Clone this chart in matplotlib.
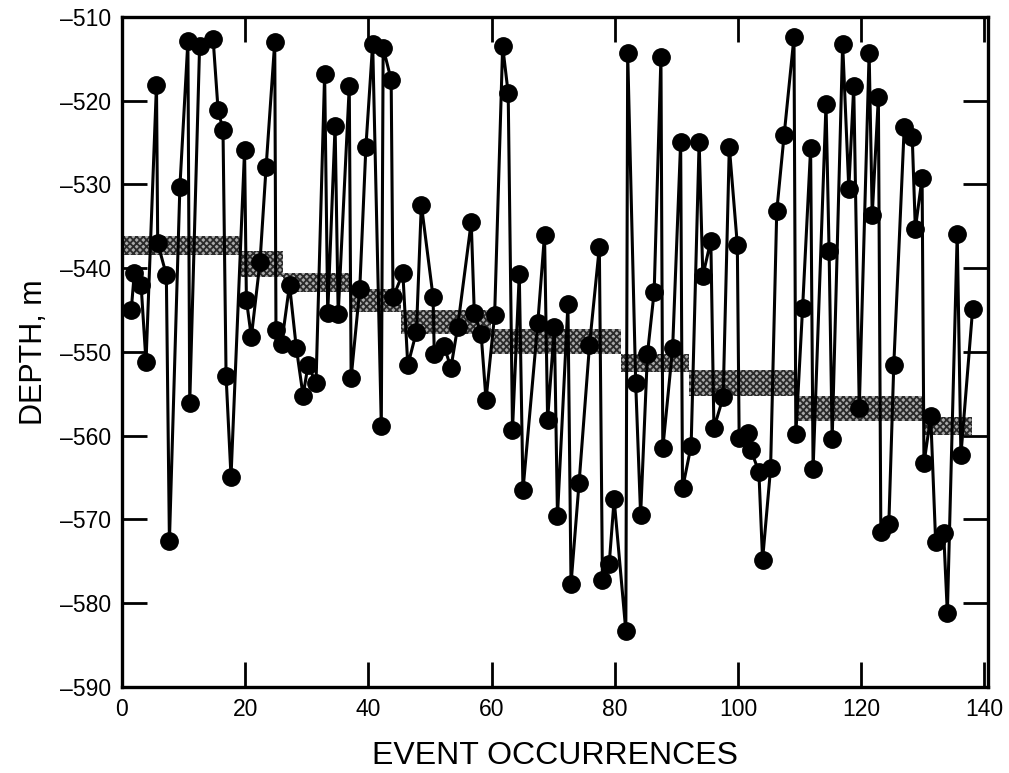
import matplotlib
matplotlib.use("Agg")
import matplotlib.pyplot as plt
from matplotlib.patches import Rectangle

plt.rcParams['font.family'] = ['Liberation Sans', 'DejaVu Sans']
plt.rcParams['hatch.linewidth'] = 1.3

# Event occurrence number (as read) and depth (m)
events = [1.5, 2.0, 3.1, 3.9, 5.6, 5.8, 7.2, 7.7, 9.4, 10.7,
          11.0, 12.6, 14.8, 15.6, 16.4, 16.9, 17.7, 19.9, 20.2, 21.0,
          22.4, 23.4, 24.8, 25.0, 25.9, 27.2, 28.3, 29.4, 30.2, 31.5,
          32.9, 33.4, 34.6, 35.1, 36.9, 37.2, 38.6, 39.6, 40.7, 42.1,
          42.4, 43.7, 44.0, 45.6, 46.4, 47.8, 48.6, 50.5, 50.7, 52.3,
          53.4, 54.5, 56.7, 57.2, 58.3, 59.1, 60.5, 61.8, 62.7, 63.4,
          64.5, 65.1, 67.5, 68.6, 69.1, 70.2, 70.7, 72.4, 72.9, 74.2,
          75.9, 77.5, 78.0, 79.1, 79.9, 81.8, 82.1, 83.4, 84.2, 85.3,
          86.4, 87.5, 87.8, 89.4, 90.7, 91.0, 92.4, 93.7, 94.3, 95.6,
          96.1, 97.6, 98.6, 99.9, 100.2, 101.6, 102.1, 103.4, 104.0, 105.3,
          106.3, 107.5, 109.1, 109.4, 110.5, 111.8, 112.2, 114.3, 114.8, 115.3,
          117.0, 118.0, 118.8, 119.7, 121.3, 121.8, 122.8, 123.2, 124.5, 125.3,
          127.0, 128.3, 128.8, 129.9, 130.2, 131.3, 132.1, 133.4, 134.0, 135.6,
          136.2, 138.1]
depth = [-545.0, -540.6, -542.0, -551.2, -518.1, -537.0, -540.8, -572.6, -530.3, -512.9,
         -556.1, -513.5, -512.7, -521.1, -523.5, -552.9, -564.9, -525.9, -543.8, -548.2,
         -539.3, -527.9, -513.0, -547.4, -549.1, -542.0, -549.5, -555.2, -551.6, -553.7,
         -516.8, -545.4, -523.0, -545.5, -518.3, -553.1, -542.5, -525.5, -513.2, -558.8,
         -513.7, -517.5, -543.5, -540.6, -551.6, -547.6, -532.4, -543.4, -550.2, -549.3,
         -551.9, -547.0, -534.5, -545.4, -547.8, -555.7, -545.6, -513.5, -519.1, -559.3,
         -540.7, -566.5, -546.6, -536.0, -558.1, -547.0, -569.6, -544.3, -577.7, -565.7,
         -549.2, -537.5, -577.2, -575.3, -567.6, -583.3, -514.3, -553.7, -569.5, -550.3,
         -542.8, -514.8, -561.5, -549.5, -524.9, -566.3, -561.2, -524.9, -540.9, -536.7,
         -559.1, -555.4, -525.5, -537.2, -560.3, -559.7, -561.7, -564.3, -574.8, -563.9,
         -533.2, -524.1, -512.4, -559.8, -544.7, -525.7, -564.0, -520.4, -538.0, -560.4,
         -513.2, -530.5, -518.3, -556.7, -514.3, -533.7, -519.6, -571.5, -570.5, -551.6,
         -523.1, -524.4, -535.3, -529.2, -563.3, -557.7, -572.7, -571.6, -581.2, -535.9,
         -562.3, -544.9]

# Shaded step bands (start event, end event, upper depth, lower depth)
band_start = [0.0, 19.3, 26.2, 37.0, 45.3, 59.9, 81.0, 92.0, 109.4, 130.0]
band_end = [19.3, 26.2, 37.0, 45.3, 59.9, 81.0, 92.0, 109.4, 130.0, 138.0]
band_top = [-536.1, -537.9, -540.6, -542.5, -545.0, -547.3, -550.3, -552.2, -555.2, -557.8]
band_bottom = [-538.4, -541.0, -542.9, -545.2, -547.8, -550.3, -552.4, -555.3, -558.3, -559.9]

x_ticks = [0, 20, 40, 60, 80, 100, 120, 140]
y_ticks = [-590, -580, -570, -560, -550, -540, -530, -520, -510]

fig = plt.figure(figsize=(10.09, 7.73), dpi=100)
ax = fig.add_axes([0.1209, 0.1112, 0.8583, 0.867])

for x0, x1, top, bot in zip(band_start, band_end, band_top, band_bottom):
    ax.add_patch(Rectangle((x0, bot), x1 - x0, top - bot,
                           facecolor='#a8a8a8', edgecolor='#2a2a2a',
                           hatch='xxxxx', linewidth=0, zorder=1))

ax.plot(events, depth, color='black', linewidth=2.2, marker='o',
        markersize=12.5, markerfacecolor='black', markeredgecolor='black',
        zorder=3, clip_on=False)

ax.set_xlim(0, 140.6)
ax.set_ylim(-590, -510)
ax.set_xticks(x_ticks)
ax.set_yticks(y_ticks)
ax.set_yticklabels(['\u2013' + str(abs(v)) for v in y_ticks])
ax.tick_params(direction='in', length=18, width=2, labelsize=16.5,
               top=True, right=True, pad=8)
for s in ax.spines.values():
    s.set_linewidth(2.4)

ax.set_xlabel('EVENT OCCURRENCES', fontsize=23, labelpad=14)
ax.set_ylabel('DEPTH, m', fontsize=22, labelpad=8)

fig.savefig('out.png', dpi=100)
